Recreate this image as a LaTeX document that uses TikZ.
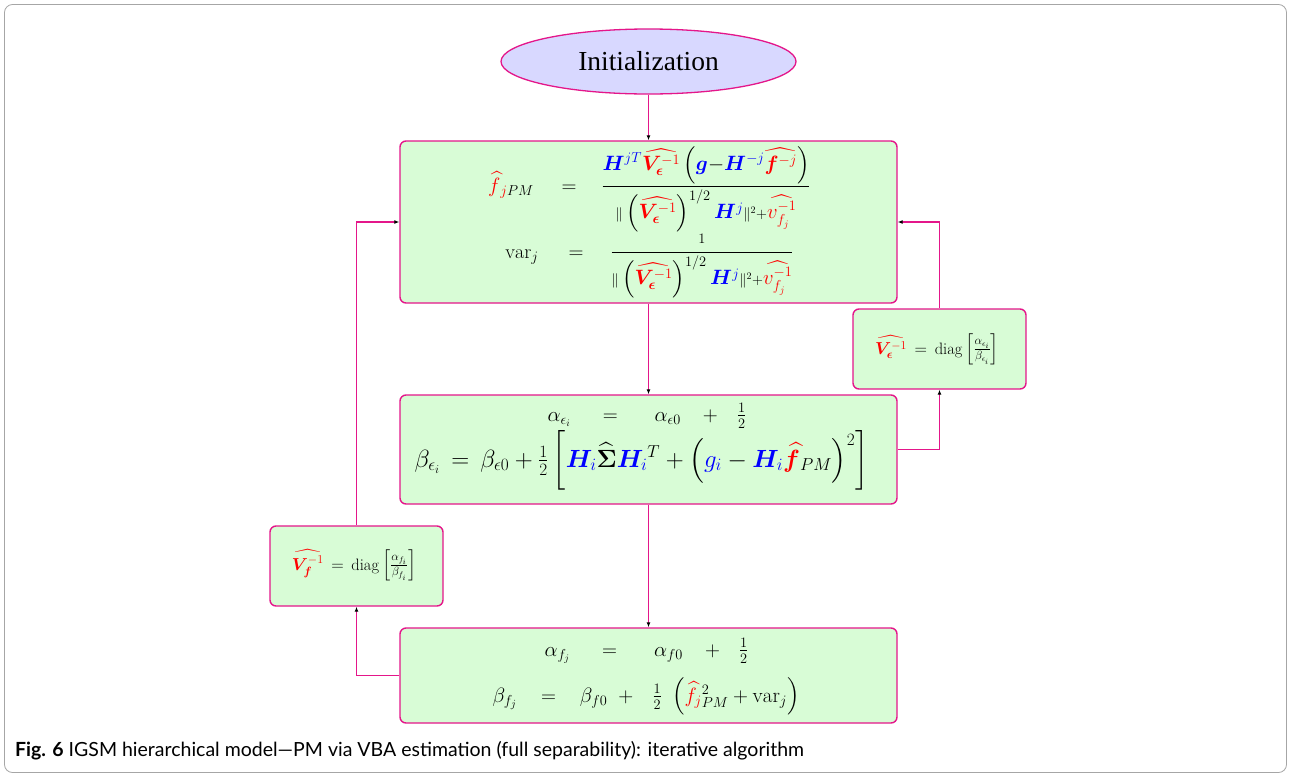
\documentclass[tikz,border=0pt]{standalone}
\usepackage{amsmath,bm}
\usepackage{fontspec}
\newfontfamily\capfont[Ligatures=TeX]{Lato}
\newfontfamily\timesfont{Liberation Serif}
\usetikzlibrary{shapes.geometric,arrows.meta}
\definecolor{mag}{RGB}{228,22,138}
\definecolor{boxgreen}{RGB}{216,252,214}
\definecolor{ellfill}{RGB}{216,216,255}
\definecolor{mblue}{RGB}{0,0,255}
\definecolor{mred}{RGB}{255,0,0}
\newcommand{\Bl}[1]{\textcolor{mblue}{#1}}
\newcommand{\Rd}[1]{\textcolor{mred}{#1}}
\newcommand{\Veps}{\Rd{\widehat{\bm{V}_{\bm{\epsilon}}^{-1}}}}
\newcommand{\Vfh}{\Rd{\widehat{\bm{V}_{\bm{f}}^{-1}}}}
\newcommand{\vfj}{\Rd{\widehat{v_{f_j}^{-1}}}}
\begin{document}
\begin{tikzpicture}[x=1pt,y=-1pt,
  box/.style={draw=mag,fill=boxgreen,line width=1.4pt,rounded corners=6pt,inner sep=0pt},
  conn/.style={draw=mag,line width=1.2pt,-{Latex[black,length=5pt,width=4pt]}},
  eqn/.style={inner sep=0pt,anchor=base,font=\fontsize{20}{24}\selectfont},
  eqm/.style={inner sep=0pt,anchor=base,font=\fontsize{21}{25}\selectfont},
  eqb/.style={inner sep=0pt,anchor=base,font=\fontsize{23}{27}\selectfont},
  eqt/.style={inner sep=0pt,anchor=base,font=\fontsize{16.5}{19}\selectfont},
]
\useasboundingbox (0,0) rectangle (1291,777);
\draw[gray!70,line width=0.8pt,rounded corners=8pt] (4.5,4.5) rectangle (1286.5,772.5);

\node[ellipse,draw=mag,fill=ellfill,line width=1.3pt,minimum width=295pt,minimum height=65pt,inner sep=0pt,
  font=\timesfont\fontsize{27.5}{30}\selectfont] (init) at (648.5,61.5) {Initialization};

\node[box,minimum width=497pt,minimum height=162pt] (b1) at (648.5,222) {};
\node[box,minimum width=497pt,minimum height=109pt] (b2) at (648.5,449.5) {};
\node[box,minimum width=497pt,minimum height=95pt] (b3) at (648.5,675.5) {};
\node[box,minimum width=173pt,minimum height=80pt] (be) at (939.5,349) {};
\node[box,minimum width=173pt,minimum height=80pt] (bf) at (356.5,566) {};

\draw[conn] (init.south) -- (b1.north);
\draw[conn] (b1.south) -- (b2.north);
\draw[conn] (b2.south) -- (b3.north);
\draw[conn] (b2.east) -| (be.south);
\draw[conn] (be.north) |- (b1.east);
\draw[conn] (b3.west) -| (bf.south);
\draw[conn] (bf.north) |- (b1.west);

% box 1
\node[eqn] (l1) at (511,192) {$\Rd{\widehat{f}}_{\Rd{j}PM}$};
\node[eqn] (e1) at (569,192) {${=}$};
\node[eqn] (r1) at (706,192) {$\dfrac{\Bl{\bm{H}^{jT}}\Veps\left(\Bl{\bm{g}}{-}\Bl{\bm{H}^{-j}}\Rd{\widehat{\bm{f}^{-j}}}\right)}{{\scriptstyle\|}\left(\Veps\right)^{1/2}\Bl{\bm{H}^{j}}{\scriptstyle\|^2{+}}\vfj}$};
\node[eqn] (l2) at (522,258) {$\mathrm{var}_j$};
\node[eqn] (e2) at (576,258) {${=}$};
\node[eqn] (r2) at (702,258) {$\dfrac{\scriptstyle 1}{{\scriptstyle\|}\left(\Veps\right)^{1/2}\Bl{\bm{H}^{j}}{\scriptstyle\|^2{+}}\vfj}$};

% box 2
\node[eqn] (a2) at (647,421) {$\alpha_{\epsilon_i}\hspace{32pt}{=}\hspace{37pt}\alpha_{\epsilon 0}\hspace{22pt}{+}\hspace{19pt}\frac{1}{2}$};
\node[eqb] (c2) at (641.5,467) {$\beta_{\epsilon_i}\,=\,\beta_{\epsilon 0}+\frac{1}{2}\left[\Bl{\bm{H}_i}\widehat{\bm{\Sigma}}\Bl{\bm{H}_i}^T+\left(\Bl{g_i}-\Bl{\bm{H}_i}\Rd{\widehat{\bm{f}}}_{PM}\right)^2\right]$};

% box 3
\node[eqn] (a3) at (646.5,656) {$\alpha_{f_j}\hspace{32pt}{=}\hspace{37pt}\alpha_{f0}\hspace{22pt}{+}\hspace{19pt}\frac{1}{2}$};
\node[eqm] (c3) at (646,702) {$\beta_{f_j}\hspace{24pt}{=}\hspace{24pt}\beta_{f0}\hspace{11pt}{+}\hspace{19pt}\frac{1}{2}\hspace{7pt}\left(\Rd{\widehat{f}_j}{}^2_{PM}+\mathrm{var}_j\right)$};

% small boxes
\node[eqt] (ve) at (937,354) {$\Veps\,=\,\mathrm{diag}\left[\frac{\alpha_{\epsilon_i}}{\beta_{\epsilon_i}}\right]$};
\node[eqt] (vf) at (354,570) {$\Vfh\,=\,\mathrm{diag}\left[\frac{\alpha_{f_i}}{\beta_{f_i}}\right]$};

% caption
\node[anchor=base west,inner sep=0pt,font=\capfont\fontsize{19.5}{22}\selectfont] (cap) at (15,756)
  {\textbf{Fig. 6} IGSM hierarchical model—PM via VBA estimation (full separability): iterative algorithm};
\end{tikzpicture}
\end{document}
